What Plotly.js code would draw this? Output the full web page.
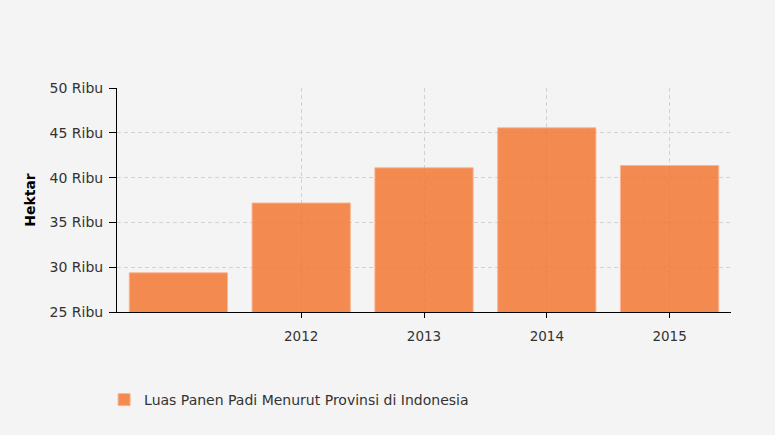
<!DOCTYPE html>
<html>
<head>
<meta charset="utf-8">
<script src="https://cdn.plot.ly/plotly-3.0.1.min.js"></script>
<style>html,body{margin:0;padding:0;background:#f4f4f4;}#chart{width:775px;height:435px;}</style>
</head>
<body>
<div id="chart"></div>
<script>
const seriesName = "Luas Panen Padi Menurut Provinsi di Indonesia";
const years = [2011, 2012, 2013, 2014, 2015];
const hectares = [29375, 37165, 41094, 45558, 41350];
const xTickVals = [2012, 2013, 2014, 2015];
const xTickText = ["2012", "2013", "2014", "2015"];
const yTickVals = [25000, 30000, 35000, 40000, 45000, 50000];
const yTickText = ["25 Ribu", "30 Ribu", "35 Ribu", "40 Ribu", "45 Ribu", "50 Ribu"];
const yTitle = "Hektar";

const font = "DejaVu Sans, Verdana, sans-serif";

const trace = {
  type: "bar",
  x: years,
  y: hectares,
  name: seriesName,
  showlegend: true,
  marker: {
    color: "rgba(242,120,50,0.85)",
    line: {color: "rgba(247,180,145,0.9)", width: 1}
  },
  hoverinfo: "x+y"
};

const layout = {
  width: 775,
  height: 435,
  paper_bgcolor: "#f4f4f4",
  plot_bgcolor: "#f4f4f4",
  margin: {l: 117, r: 44, t: 88, b: 123, pad: 0},
  bargap: 0.2,
  font: {family: font, size: 14, color: "#333"},
  xaxis: {
    range: [2010.5, 2015.5],
    tickvals: xTickVals,
    ticktext: xTickText,
    showline: true,
    linecolor: "#000",
    linewidth: 1,
    ticks: "outside",
    ticklen: 5,
    tickcolor: "#000",
    showgrid: true,
    gridcolor: "#d2d2d2",
    griddash: "4px,3px",
    gridwidth: 1,
    zeroline: false,
    tickfont: {family: font, size: 13.5, color: "#333"},
    ticklabelstandoff: 7,
    fixedrange: true
  },
  yaxis: {
    range: [25000, 50000],
    tickvals: yTickVals,
    ticktext: yTickText,
    showline: true,
    linecolor: "#000",
    linewidth: 1,
    ticks: "outside",
    ticklen: 7,
    tickcolor: "#000",
    showgrid: true,
    gridcolor: "#d2d2d2",
    griddash: "4px,3px",
    gridwidth: 1,
    zeroline: false,
    tickfont: {family: font, size: 14, color: "#333"},
    ticklabelstandoff: 3,
    title: {text: "<b>" + yTitle + "</b>", font: {family: font, size: 14, color: "#000"}, standoff: 10},
    fixedrange: true
  },
  showlegend: true,
  legend: {
    orientation: "h",
    x: -0.021,
    xanchor: "left",
    y: -0.393,
    yanchor: "middle",
    bgcolor: "rgba(0,0,0,0)",
    font: {family: font, size: 14, color: "#333"}
  }
};

Plotly.newPlot("chart", [trace], layout, {displayModeBar: false, staticPlot: true});
</script>
</body>
</html>
